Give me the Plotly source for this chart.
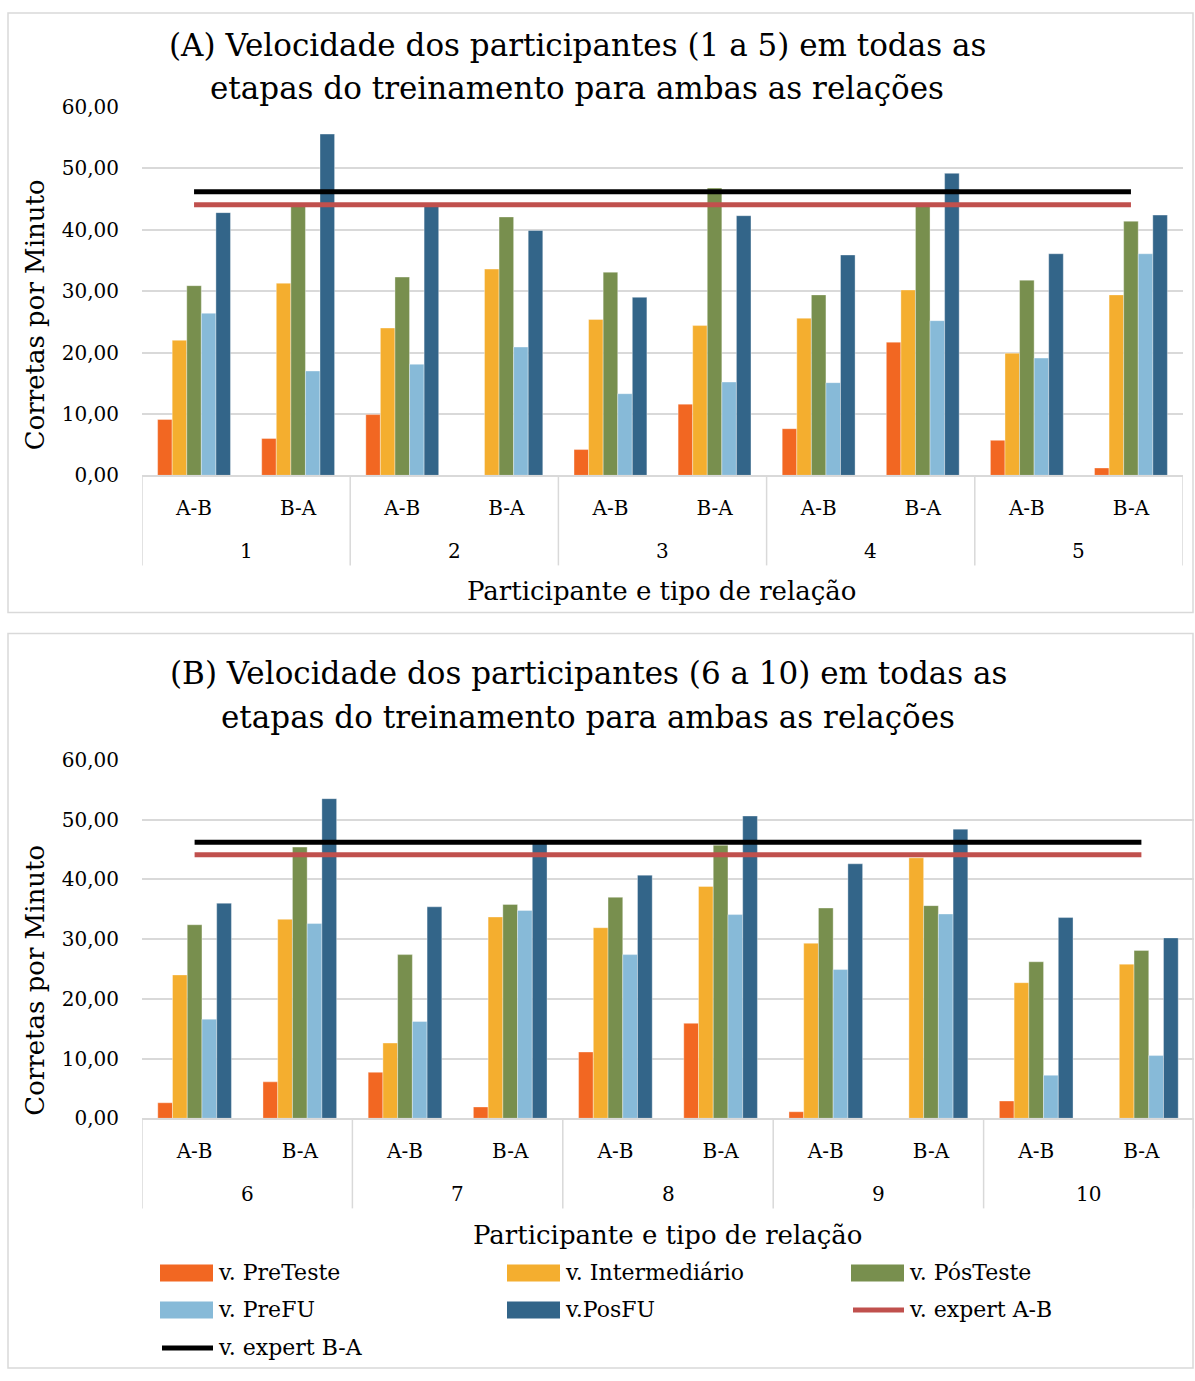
import plotly.graph_objects as go

W, H = 1195, 1381
FONT = "DejaVu Serif"

# ---------------- data ----------------
participants_A = ["1", "2", "3", "4", "5"]
participants_B = ["6", "7", "8", "9", "10"]
relations = ["A-B", "B-A"]

series_names = ["v. PreTeste", "v. Intermediário", "v. PósTeste", "v. PreFU", "v.PosFU"]
series_colors = ["#F26722", "#F4AE2F", "#788F4E", "#87BAD8", "#336589"]

pre_A = [9.1, 6.0, 9.9, 0.0, 4.2, 11.6, 7.6, 21.7, 5.7, 1.2]
inter_A = [22.0, 31.3, 24.0, 33.6, 25.4, 24.4, 25.6, 30.2, 19.9, 29.4]
pos_A = [30.9, 44.0, 32.3, 42.1, 33.1, 46.8, 29.4, 44.0, 31.8, 41.4]
prefu_A = [26.4, 17.0, 18.1, 20.9, 13.3, 15.2, 15.1, 25.2, 19.1, 36.1]
posfu_A = [42.8, 55.6, 44.0, 39.9, 29.0, 42.3, 35.9, 49.2, 36.1, 42.4]

pre_B = [2.6, 6.1, 7.7, 1.9, 11.1, 15.9, 1.1, 0.0, 2.9, 0.0]
inter_B = [24.0, 33.3, 12.6, 33.7, 31.9, 38.8, 29.3, 43.6, 22.7, 25.8]
pos_B = [32.4, 45.4, 27.4, 35.8, 37.0, 45.7, 35.2, 35.6, 26.2, 28.1]
prefu_B = [16.6, 32.6, 16.2, 34.8, 27.4, 34.1, 24.9, 34.2, 7.2, 10.5]
posfu_B = [36.0, 53.5, 35.4, 46.0, 40.7, 50.6, 42.6, 48.4, 33.6, 30.2]

expert_AB = 44.1
expert_BA = 46.2
line_names = ["v. expert A-B", "v. expert B-A"]
line_colors = ["#C0504D", "#000000"]

y_ticks = [0, 10, 20, 30, 40, 50, 60]

title_A = ["(A) Velocidade dos participantes (1 a 5) em todas as",
           "etapas do treinamento para ambas as relações"]
title_B = ["(B) Velocidade dos participantes (6 a 10) em todas as",
           "etapas do treinamento para ambas as relações"]
x_title = "Participante e tipo de relação"
y_title = "Corretas por Minuto"

# photographed page is slightly squeezed vertically: map target pixel rows
Y_OFF, Y_SPAN = 12, 1356


def px(x):
    return x / W


def py(y):
    return 1 - (y - Y_OFF) / Y_SPAN


def cat_keys(parts):
    return [f"{p} {r}" for p in parts for r in relations]


fig = go.Figure()

panels = [
    ("x", "y", participants_A, [pre_A, inter_A, pos_A, prefu_A, posfu_A]),
    ("x2", "y2", participants_B, [pre_B, inter_B, pos_B, prefu_B, posfu_B]),
]

for xa, ya, parts, vals in panels:
    xcat = cat_keys(parts)
    for name, color, v in zip(series_names, series_colors, vals):
        fig.add_trace(go.Bar(
            x=xcat, y=v, name=name, xaxis=xa, yaxis=ya,
            marker=dict(color=color, line=dict(color="rgba(255,255,255,0.6)", width=0.6)),
            showlegend=False,
        ))
    for name, color, val in zip(line_names, line_colors, [expert_AB, expert_BA]):
        fig.add_trace(go.Scatter(
            x=xcat, y=[val] * len(xcat), name=name, mode="lines",
            xaxis=xa, yaxis=ya, line=dict(color=color, width=5),
            showlegend=False,
        ))

axis_font = dict(family=FONT, size=20, color="#000000")
grid_color = "#D9D9D9"


def x_axis(parts, domain, anchor):
    return dict(
        type="category", domain=domain, anchor=anchor, showgrid=False,
        ticks="", ticklen=0, showline=True, linecolor=grid_color, linewidth=1.5,
        tickfont=axis_font, tickvals=cat_keys(parts),
        ticktext=[r for _ in parts for r in relations],
        ticklabelstandoff=14, range=[-0.5, 2 * len(parts) - 0.5],
    )


common_y = dict(
    range=[0, 60], tickvals=y_ticks, tickformat=".2f", showgrid=True,
    gridcolor=grid_color, gridwidth=1.5, zeroline=False, showline=False,
    ticks="", tickfont=axis_font, ticklabelstandoff=22,
)

A_base, A_top = 475, 107
B_base, B_top = 1117.5, 759.3

fig.update_layout(
    width=W, height=H, margin=dict(l=0, r=0, t=0, b=0),
    paper_bgcolor="white", plot_bgcolor="white",
    separators=",.", barmode="group", bargap=0.3, bargroupgap=0,
    font=dict(family=FONT, color="#000000"),
    xaxis=x_axis(participants_A, [px(142), px(1183)], "y"),
    yaxis=dict(domain=[py(A_base), py(A_top)], anchor="x", **common_y),
    xaxis2=x_axis(participants_B, [px(142), px(1194)], "y2"),
    yaxis2=dict(domain=[py(B_base), py(B_top)], anchor="x2", **common_y),
    showlegend=False,
)

shapes = []
annotations = []

# panel borders
for (x0, y0, x1, y1) in [(8, 13, 1193, 612), (8, 633, 1193, 1367)]:
    shapes.append(dict(type="rect", xref="paper", yref="paper",
                       x0=px(x0), x1=px(x1), y0=py(y1), y1=py(y0),
                       line=dict(color=grid_color, width=1.5), fillcolor="rgba(0,0,0,0)"))

# participant group labels and dividers
for xa, parts, base in [("x", participants_A, A_base), ("x2", participants_B, B_base)]:
    for i, p in enumerate(parts):
        annotations.append(dict(text=p, x=2 * i + 0.5, y=py(base + 76), xref=xa, yref="paper",
                                showarrow=False, font=axis_font,
                                xanchor="center", yanchor="middle"))
    for k in range(len(parts) + 1):
        shapes.append(dict(type="line", xref=xa, yref="paper",
                           x0=2 * k - 0.5, x1=2 * k - 0.5, y0=py(base), y1=py(base + 90),
                           line=dict(color=grid_color, width=1.5)))

# titles (two centred lines each)
for lines, xc, ys in [(title_A, 577, (45, 88)), (title_B, 588, (673, 716))]:
    for txt, yc in zip(lines, ys):
        annotations.append(dict(text=txt, x=px(xc), y=py(yc), xref="paper", yref="paper",
                                showarrow=False, font=dict(family=FONT, size=31, color="#000"),
                                xanchor="center", yanchor="middle"))
# axis titles
for xc, yc in [(662, 591), (668, 1234)]:
    annotations.append(dict(text=x_title, x=px(xc), y=py(yc), xref="paper", yref="paper",
                            showarrow=False, font=dict(family=FONT, size=26, color="#000"),
                            xanchor="center", yanchor="middle"))
for yc in [315, 980]:
    annotations.append(dict(text=y_title, x=px(35), y=py(yc), xref="paper", yref="paper",
                            showarrow=False, textangle=-90,
                            font=dict(family=FONT, size=26, color="#000"),
                            xanchor="center", yanchor="middle"))

# custom legend (bottom of panel B)
legend_items = [(n, c, "bar") for n, c in zip(series_names, series_colors)] + \
               [(n, c, "line") for n, c in zip(line_names, line_colors)]
col_x = [160, 507, 851]
row_y = [1272, 1309, 1347]
for i, (name, color, kind) in enumerate(legend_items):
    cx = col_x[i % 3]
    cy = row_y[i // 3]
    if kind == "bar":
        shapes.append(dict(type="rect", xref="paper", yref="paper",
                           x0=px(cx), x1=px(cx + 53), y0=py(cy + 8.5), y1=py(cy - 8.5),
                           fillcolor=color, line=dict(width=0)))
    else:
        shapes.append(dict(type="line", xref="paper", yref="paper",
                           x0=px(cx + 2), x1=px(cx + 53), y0=py(cy), y1=py(cy),
                           line=dict(color=color, width=5)))
    annotations.append(dict(text=name, x=px(cx + 56), y=py(cy), xref="paper", yref="paper",
                            showarrow=False, font=dict(family=FONT, size=22, color="#000"),
                            xanchor="left", yanchor="middle"))

fig.update_layout(shapes=shapes, annotations=annotations)
fig.write_html(
    "out.html",
    config={"displayModeBar": False},
    post_script="document.body.style.margin='0';document.body.style.overflow='hidden';",
)
